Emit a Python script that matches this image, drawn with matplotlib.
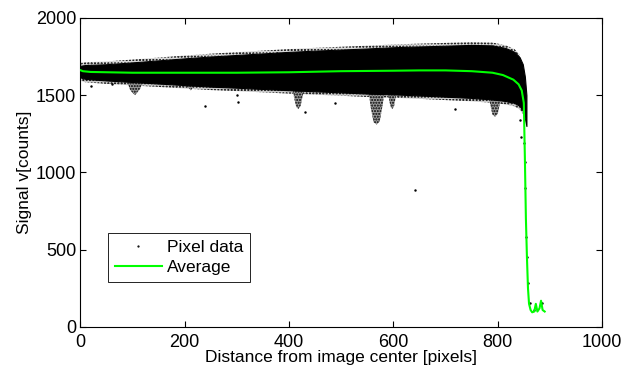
import matplotlib.pyplot as plt
import numpy as np
from matplotlib.lines import Line2D

plt.rcParams['font.family'] = ['Liberation Sans', 'DejaVu Sans']
plt.rcParams['hatch.linewidth'] = 1.0

# envelope of the dense pixel cloud
cloud_x = [0, 10, 50, 100, 150, 200, 250, 300, 350, 400, 450, 500, 550, 600,
           650, 700, 750, 790, 815, 832, 842, 848, 852, 855]
cloud_top = [1690, 1695, 1700, 1712, 1725, 1738, 1750, 1760, 1770, 1780, 1788,
             1795, 1802, 1810, 1815, 1820, 1825, 1822, 1805, 1780, 1745, 1700,
             1620, 1500]
cloud_bot = [1615, 1605, 1595, 1585, 1575, 1565, 1555, 1548, 1540, 1532, 1525,
             1518, 1510, 1505, 1498, 1490, 1482, 1472, 1462, 1450, 1430, 1400,
             1350, 1300]

# speckled dips below the cloud: (centre, half width, lowest value)
dip_x = [105, 212, 418, 568, 598, 795]
dip_w = [14, 10, 12, 17, 10, 15]
dip_low = [1500, 1530, 1410, 1310, 1410, 1360]

# isolated pixels
stray_x = [20, 60, 240, 301, 303, 377, 431, 488, 642, 718, 843, 845, 850, 852,
           853, 855, 856, 858, 862, 885, 870]
stray_y = [1560, 1570, 1430, 1502, 1456, 1773, 1392, 1450, 887, 1411, 1340,
           1230, 1190, 1068, 900, 582, 450, 285, 155, 155, 110]

# average profile
avg_x = [0, 5, 20, 100, 200, 300, 400, 500, 600, 650, 700, 750, 790, 810,
         830, 840, 846, 850, 852, 854, 856, 858, 860, 863, 866, 870, 873, 876,
         880, 883, 886, 890]
avg_y = [1662, 1655, 1650, 1645, 1645, 1645, 1648, 1655, 1658, 1660, 1660,
         1655, 1645, 1630, 1600, 1570, 1530, 1450, 1100, 700, 450, 250, 150,
         110, 95, 100, 150, 100, 120, 170, 110, 100]

fig = plt.figure(figsize=(6.22, 3.72), dpi=100)
ax = fig.add_axes([0.129, 0.121, 0.839, 0.831])

ax.fill_between(cloud_x, cloud_bot, cloud_top, color='black', lw=0.8, zorder=2)
# ragged speckle fringe on both edges
top_fringe = [t + 18 for t in cloud_top]
bot_fringe = [b - 22 for b in cloud_bot]
ax.fill_between(cloud_x[:-3], cloud_top[:-3], top_fringe[:-3], facecolor='#d8d8d8',
                edgecolor='black', hatch='.....', lw=0, zorder=1)
ax.fill_between(cloud_x[:-2], bot_fringe[:-2], cloud_bot[:-2], facecolor='#c8c8c8',
                edgecolor='black', hatch='.....', lw=0, zorder=1)
for cx, w, lo in zip(dip_x, dip_w, dip_low):
    xs = [cx - w, cx - w * 0.7, cx - w * 0.35, cx, cx + w * 0.35, cx + w * 0.7, cx + w]
    top = 1580
    ys = [top, lo + (top - lo) * 0.45, lo + 15, lo, lo + 20, lo + (top - lo) * 0.5, top]
    ax.fill(xs, ys, facecolor='#9a9a9a', edgecolor='black', hatch='......',
            lw=0, zorder=1)
ax.plot(stray_x, stray_y, '.', color='black', markersize=1.5, zorder=2)
ax.plot(avg_x, avg_y, color='#00ff00', lw=1.5, zorder=3)

ax.set_xlim(0, 1000)
ax.set_ylim(0, 2000)
ax.set_xticks(range(0, 1001, 200))
ax.set_yticks(range(0, 2001, 500))
ax.tick_params(direction='in', top=True, right=True, labelsize=13, length=4)
ax.tick_params(axis='x', pad=5)
ax.tick_params(axis='y', pad=3)
for s in ax.spines.values():
    s.set_linewidth(0.8)

ax.set_xlabel('Distance from image center [pixels]', fontsize=12.5, labelpad=-1)
ax.set_ylabel('Signal v[counts]', fontsize=12.5, labelpad=3)

handles = [Line2D([], [], ls='none', marker='.', color='black', markersize=1.2),
           Line2D([], [], color='#00ff00', lw=1.5)]
leg = ax.legend(handles, ['Pixel data', 'Average'], loc='lower left',
                bbox_to_anchor=(0.053, 0.146), fontsize=12.5, fancybox=False,
                framealpha=1, edgecolor='black', handlelength=2.7,
                handletextpad=0.3, borderpad=0.4, labelspacing=0.25,
                borderaxespad=0)
leg.get_frame().set_linewidth(0.6)

fig.savefig('out.png', dpi=100)
